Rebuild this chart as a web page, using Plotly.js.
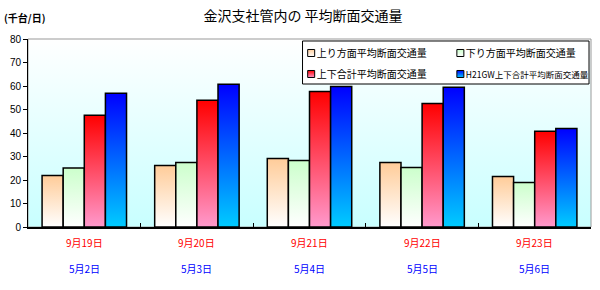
<!DOCTYPE html>
<html>
<head>
<meta charset="utf-8">
<script src="https://cdn.plot.ly/plotly-3.0.1.min.js"></script>
<style>html,body{margin:0;padding:0;background:#fff;}#chart{width:600px;height:290px;}</style>
</head>
<body>
<div id="chart"></div>
<script>
// ---- data ----
const categories = ['9月19日', '9月20日', '9月21日', '9月22日', '9月23日'];
const gwDates = ['5月2日', '5月3日', '5月4日', '5月5日', '5月6日'];
const seriesNames = ['上り方面平均断面交通量', '下り方面平均断面交通量', '上下合計平均断面交通量', 'H21GW上下合計平均断面交通量'];
const upValues = [21.9, 26.2, 29.2, 27.4, 21.5];
const downValues = [25.1, 27.4, 28.3, 25.3, 18.9];
const totalValues = [47.6, 53.9, 57.7, 52.6, 40.7];
const gwValues = [56.9, 60.7, 59.8, 59.5, 41.9];
const yTicks = [0, 10, 20, 30, 40, 50, 60, 70, 80];

// gradient styles (top colour, bottom colour)
const gradients = [
  ['#FFCC99', '#FFFFFF'],
  ['#CCFFCC', '#FFFFFF'],
  ['#FF0000', '#FF99CC'],
  ['#0000FF', '#00CCFF']
];
const allValues = [upValues, downValues, totalValues, gwValues];
const legendIds = ['legend', 'legend2', 'legend', 'legend2'];
const legendNameSize = [null, null, null, 8.5];

const traces = allValues.map((vals, i) => ({
  type: 'bar',
  name: legendNameSize[i] ? '<span style="font-size:' + legendNameSize[i] + 'px">' + seriesNames[i] + '</span>' : seriesNames[i],
  x: categories,
  y: vals,
  legend: legendIds[i],
  legendgroup: 'g' + i,
  marker: {color: gradients[i][0], line: {color: '#000', width: 1.5}},
  hoverinfo: 'skip'
}));

const cjk = '"Noto Sans CJK JP", "Noto Sans", sans-serif';
const annotations = [];
categories.forEach((c) => {
  annotations.push({xref: 'x', yref: 'paper', x: c, y: -0.085, text: c, showarrow: false,
    font: {family: cjk, size: 10, color: '#FF0000'}, xanchor: 'center', yanchor: 'middle'});
});
gwDates.forEach((d, i) => {
  annotations.push({xref: 'x', yref: 'paper', x: categories[i], y: -0.223, text: d, showarrow: false,
    font: {family: cjk, size: 10, color: '#0000FF'}, xanchor: 'center', yanchor: 'middle'});
});
annotations.push({xref: 'paper', yref: 'paper', x: -0.046, y: 1.117, text: '<b>(千台/日)</b>', showarrow: false,
  font: {family: cjk, size: 10, color: '#000'}, xanchor: 'left', yanchor: 'middle'});

const legendCommon = {orientation: 'v', yanchor: 'top', xanchor: 'left', y: 1.0027,
  bgcolor: 'rgba(0,0,0,0)', borderwidth: 0, tracegroupgap: 2, itemwidth: 30,
  font: {family: cjk, size: 10, color: '#000'}};

const layout = {
  width: 600, height: 290,
  margin: {l: 28, r: 6, t: 39, b: 63},
  paper_bgcolor: '#FFFFFF',
  plot_bgcolor: '#E8FFFF',
  title: {text: '金沢支社管内の 平均断面交通量', x: 0.505, xanchor: 'center', y: 0.945, yanchor: 'middle', yref: 'container',
    font: {family: cjk, size: 14, color: '#000'}},
  barmode: 'group',
  bargap: 0.25,
  bargroupgap: 0,
  showlegend: true,
  legend: Object.assign({}, legendCommon, {x: 0.4417}),
  legend2: Object.assign({}, legendCommon, {x: 0.7067}),
  xaxis: {type: 'category', showticklabels: false, ticks: 'inside', tickson: 'boundaries', ticklen: 4,
    tickcolor: '#000', showline: true, linecolor: '#000', linewidth: 1.5, showgrid: false, zeroline: false, fixedrange: true},
  yaxis: {range: [0, 80], tickvals: yTicks, ticks: 'outside', ticklen: 4, tickcolor: '#000',
    showline: true, linecolor: '#000', linewidth: 1, showgrid: false, zeroline: false,
    tickfont: {family: '"Liberation Sans", Arial, sans-serif', size: 10, color: '#000'}, fixedrange: true},
  shapes: [
    {type: 'rect', xref: 'paper', yref: 'paper', x0: 0, x1: 1, y0: 0, y1: 1,
      line: {color: '#999999', width: 1}, layer: 'below'},
    {type: 'rect', xref: 'paper', yref: 'paper', x0: 0.4876, x1: 0.9965, y0: 0.7606, y1: 0.9894,
      fillcolor: '#FFFFFF', line: {color: '#000000', width: 1}, layer: 'above'}
  ],
  annotations: annotations
};

function ensureDefs() {
  const svgNS = 'http://www.w3.org/2000/svg';
  if (document.getElementById('gradDefsSvg')) return;
  const svg = document.createElementNS(svgNS, 'svg');
  svg.setAttribute('id', 'gradDefsSvg');
  svg.setAttribute('width', '0'); svg.setAttribute('height', '0');
  svg.style.position = 'absolute';
  const d = document.createElementNS(svgNS, 'defs');
  svg.appendChild(d);
  document.body.appendChild(svg);
  const mk = (id, top, bottom) => {
    const g = document.createElementNS(svgNS, 'linearGradient');
    g.setAttribute('id', id);
    g.setAttribute('x1', '0'); g.setAttribute('y1', '0'); g.setAttribute('x2', '0'); g.setAttribute('y2', '1');
    const s1 = document.createElementNS(svgNS, 'stop'); s1.setAttribute('offset', '0'); s1.setAttribute('stop-color', top);
    const s2 = document.createElementNS(svgNS, 'stop'); s2.setAttribute('offset', '1'); s2.setAttribute('stop-color', bottom);
    g.appendChild(s1); g.appendChild(s2); d.appendChild(g);
  };
  gradients.forEach((c, i) => mk('grad' + i, c[0], c[1]));
  mk('gradBg', '#FFFFFF', '#C8FFFF');
}

function applyGradients(gd) {
  ensureDefs();
  const bg = gd.querySelector('.bglayer rect.bg');
  if (bg) bg.style.fill = 'url(#gradBg)';
  gd.querySelectorAll('.barlayer .trace').forEach((t, i) => {
    t.querySelectorAll('path').forEach(p => { p.style.fill = 'url(#grad' + (i % 4) + ')'; });
  });
  // legend symbols: gradient, small square placed just before its label
  gd.querySelectorAll('.legendpoints').forEach((pts) => {
    const item = pts.closest('g.traces');
    if (!item) return;
    let idx = -1;
    const dat = item.__data__;
    if (dat && dat[0] && dat[0].trace && typeof dat[0].trace.index === 'number') idx = dat[0].trace.index;
    if (idx < 0) {
      const txt0 = item.querySelector('text');
      if (txt0) idx = seriesNames.indexOf(txt0.textContent);
    }
    if (idx < 0 || idx > 3) return;
    pts.querySelectorAll('path').forEach(p => {
      p.style.fill = 'url(#grad' + idx + ')';
      p.setAttribute('d', 'M3.5,3.5H-3.5V-3.5H3.5Z');
      p.style.strokeWidth = '1px';
    });
    let target;
    const txt = item.querySelector('text');
    if (txt && txt.getBoundingClientRect().width > 0) {
      target = txt.getBoundingClientRect().left - 2;
    } else {
      const ctm = item.getScreenCTM();
      target = ctm.e + 38;
    }
    const pr = pts.getBoundingClientRect();
    const dx = target - pr.right;
    if (Math.abs(dx) > 0.5) {
      const cur = pts.getAttribute('transform') || '';
      pts.setAttribute('transform', cur + ' translate(' + dx + ',0)');
    }
  });
}

const gd = document.getElementById('chart');
Plotly.newPlot(gd, traces, layout, {displayModeBar: false, staticPlot: true}).then(() => {
  applyGradients(gd);
  gd.on('plotly_afterplot', () => applyGradients(gd));
  setTimeout(() => applyGradients(gd), 30);
  setTimeout(() => applyGradients(gd), 200);
});
</script>
</body>
</html>
